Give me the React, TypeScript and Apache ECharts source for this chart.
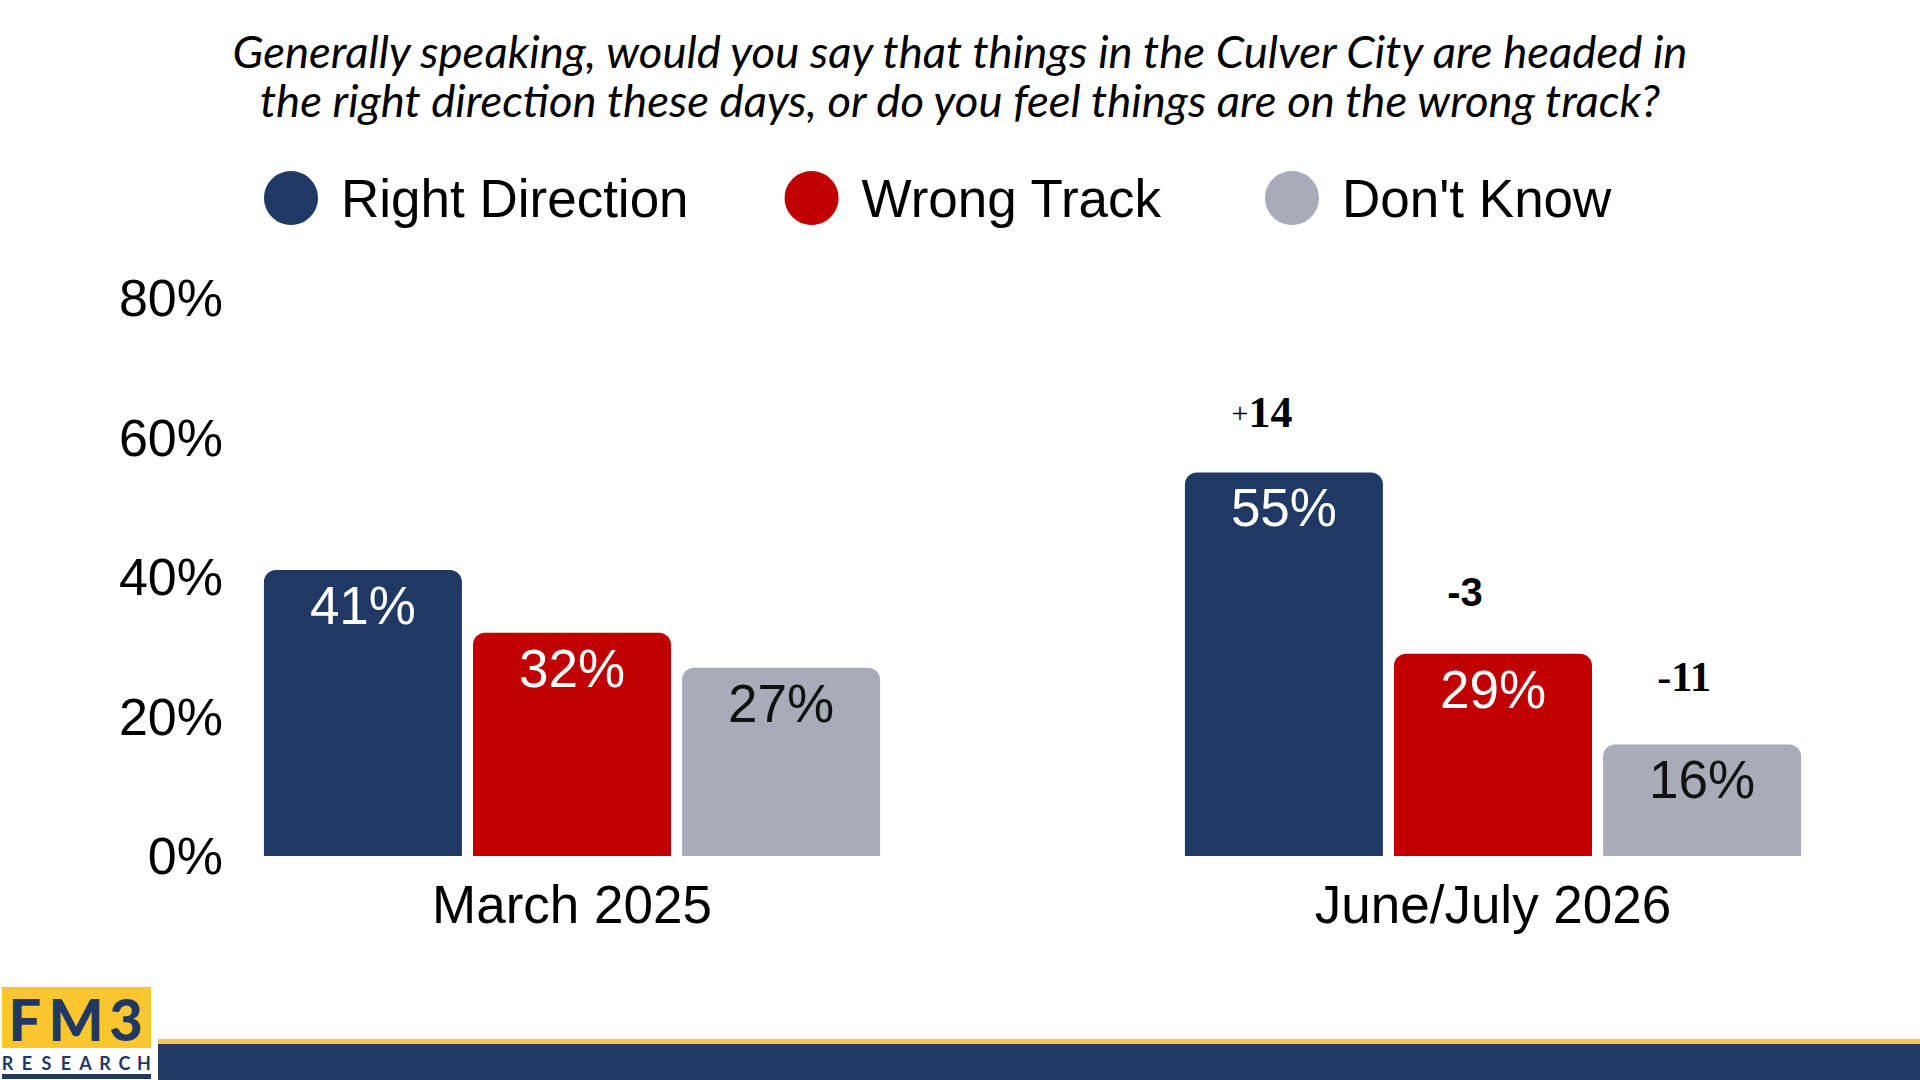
import React, { useEffect, useRef } from "react";
import * as echarts from "echarts";

const titleLines = [
  "Generally speaking, would you say that things in the Culver City are headed in",
  "the right direction these days, or do you feel things are on the wrong track?",
];
const categories = ["March 2025", "June/July 2026"];
const seriesNames = ["Right Direction", "Wrong Track", "Don't Know"];
const rightDirection = [41, 55];
const wrongTrack = [32, 29];
const dontKnow = [27, 16];
const changeRight = [null, 14];
const changeWrong = [null, -3];
const changeDontKnow = [null, -11];
const yTicks = [0, 20, 40, 60, 80];

const NAVY = "#1F3864";
const RED = "#C00000";
const GRAY = "#A9ACB8";
const SANS = "'Liberation Sans', Arial, sans-serif";
const SERIF = "'Liberation Serif', 'Times New Roman', serif";

export default function App() {
  const ref = useRef<HTMLDivElement>(null);
  useEffect(() => {
    if (!ref.current) return;
    const chart = echarts.init(ref.current, undefined, { renderer: "svg" });
    const BW = 198;
    const pctLabel = (color: string) => ({
      show: true,
      position: "insideTop",
      distance: 9,
      formatter: "{c}%",
      color,
      fontSize: 53,
      fontFamily: SANS,
    });
    const changeFmt = (v: number | null) => {
      if (v === null || v === undefined) return "";
      return v > 0 ? `{s|+}{b|${v}}` : `{b|${v}}`;
    };
    const changeLabel = (vals: (number | null)[], family: string, size: number, offX: number, dist: number) => ({
      show: true,
      position: "top",
      distance: dist,
      offset: [offX, 0],
      formatter: (p: any) => changeFmt(vals[p.dataIndex]),
      rich: {
        s: { fontFamily: SERIF, fontSize: 30, color: "#000", fontWeight: "normal" },
        b: { fontFamily: family, fontSize: size, fontWeight: "bold", color: "#000" },
      },
    });
    const legendPadRight = [0, 7, 0];
    const logoLetters = "RESEARCH".split("");
    const option: any = {
      animation: false,
      backgroundColor: "#FFFFFF",
      title: {
        text: titleLines.join("\n"),
        left: "center",
        top: 21,
        textStyle: {
          fontFamily: "Lato, sans-serif",
          fontStyle: "italic",
          fontWeight: "normal",
          fontSize: 45.5,
          lineHeight: 49,
          color: "#000",
        },
      },
      legend: {
        data: seriesNames.map((name, i) => ({
          name,
          textStyle: { padding: [0, legendPadRight[i], 0, 18] },
        })),
        left: 259,
        top: 166,
        icon: "circle",
        itemWidth: 54,
        itemHeight: 54,
        itemGap: 96,
        selectedMode: false,
        textStyle: { fontFamily: SANS, fontSize: 53, color: "#000", lineHeight: 54, padding: [0, 0, 0, 18] },
      },
      grid: { left: 572, right: 427, top: 298, bottom: 224, containLabel: false },
      xAxis: {
        type: "category",
        data: categories,
        boundaryGap: false,
        axisLine: { show: false },
        axisTick: { show: false },
        splitLine: { show: false },
        axisLabel: { fontFamily: SANS, fontSize: 53, color: "#000", margin: 22 },
      },
      yAxis: {
        type: "value",
        min: yTicks[0],
        max: yTicks[yTicks.length - 1],
        interval: yTicks[1] - yTicks[0],
        offset: 309,
        axisLine: { show: false },
        axisTick: { show: false },
        splitLine: { show: false },
        axisLabel: { fontFamily: SANS, fontSize: 52, color: "#000", margin: 40, formatter: "{value}%" },
      },
      series: [
        {
          name: seriesNames[0], type: "bar", stack: "rd", data: rightDirection, barWidth: BW, barGap: "5.6%",
          itemStyle: { color: NAVY, borderRadius: [12, 12, 0, 0] }, label: pctLabel("#FFFFFF"),
        },
        {
          name: seriesNames[1], type: "bar", stack: "wt", data: wrongTrack, barWidth: BW, barGap: "5.6%",
          itemStyle: { color: RED, borderRadius: [12, 12, 0, 0] }, label: pctLabel("#FFFFFF"),
        },
        {
          name: seriesNames[2], type: "bar", stack: "dk", data: dontKnow, barWidth: BW, barGap: "5.6%",
          itemStyle: { color: GRAY, borderRadius: [12, 12, 0, 0] }, label: pctLabel("#111111"),
        },
        {
          name: "rdChange", type: "bar", stack: "rd", barWidth: BW, barGap: "5.6%",
          data: changeRight.map((v) => (v === null ? null : 0)),
          itemStyle: { color: "rgba(0,0,0,0)" },
          label: changeLabel(changeRight, SERIF, 44, -22, 38),
        },
        {
          name: "wtChange", type: "bar", stack: "wt", barWidth: BW, barGap: "5.6%",
          data: changeWrong.map((v) => (v === null ? null : 0)),
          itemStyle: { color: "rgba(0,0,0,0)" },
          label: changeLabel(changeWrong, SANS, 40, -28, 42),
        },
        {
          name: "dkChange", type: "bar", stack: "dk", barWidth: BW, barGap: "5.6%",
          data: changeDontKnow.map((v) => (v === null ? null : 0)),
          itemStyle: { color: "rgba(0,0,0,0)" },
          label: changeLabel(changeDontKnow, SERIF, 42, -18, 46),
        },
      ],
      graphic: [
        { type: "rect", shape: { x: 158, y: 1039, width: 1762, height: 5 }, style: { fill: "#F2C94C" } },
        { type: "rect", shape: { x: 158, y: 1044, width: 1762, height: 36 }, style: { fill: NAVY } },
        { type: "rect", shape: { x: 2, y: 987, width: 149, height: 61 }, style: { fill: "#FCC72E" } },
        { type: "text", x: 25, y: 1018, style: { text: "F", fill: NAVY, font: "900 58px Lato, sans-serif", textAlign: "center", textVerticalAlign: "middle" } },
        { type: "text", x: 76, y: 1018, style: { text: "M", fill: NAVY, font: "900 58px Lato, sans-serif", textAlign: "center", textVerticalAlign: "middle" } },
        { type: "text", x: 126, y: 1018, style: { text: "3", fill: NAVY, font: "900 58px Lato, sans-serif", textAlign: "center", textVerticalAlign: "middle" } },
        ...logoLetters.map((ch, i) => ({
          type: "text", x: 7.5 + i * 19.5, y: 1063,
          style: { text: ch, fill: NAVY, font: "bold 18px Lato, sans-serif", textAlign: "center", textVerticalAlign: "middle" },
        })),
        { type: "rect", shape: { x: 2, y: 1074, width: 149, height: 5 }, style: { fill: NAVY } },
      ],
    };
    chart.setOption(option);
    return () => chart.dispose();
  }, []);
  return (
    <div
      ref={ref}
      style={{ position: "fixed", left: 0, top: 0, width: 1920, height: 1080, background: "#fff" }}
    />
  );
}
